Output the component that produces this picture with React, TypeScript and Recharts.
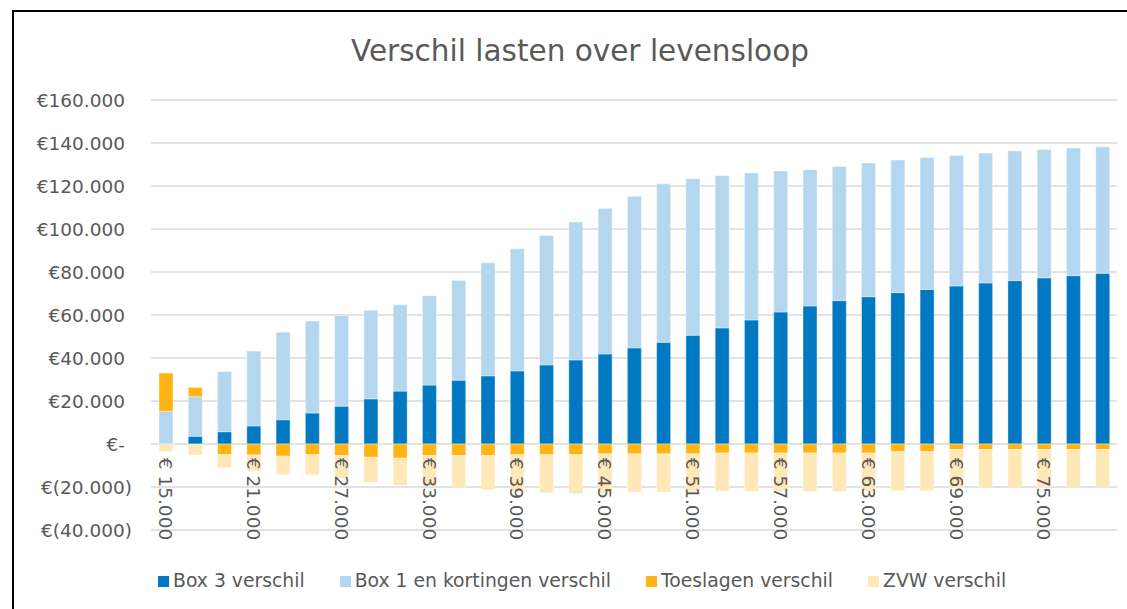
import React from 'react';
import { BarChart, Bar, XAxis, YAxis, CartesianGrid } from 'recharts';

// bruto inkomen (x-as)
const INKOMENS = [
  15000, 17000, 19000, 21000, 23000, 25000, 27000, 29000, 31000, 33000, 35000,
  37000, 39000, 41000, 43000, 45000, 47000, 49000, 51000, 53000, 55000, 57000,
  59000, 61000, 63000, 65000, 67000, 69000, 71000, 73000, 75000, 77000, 79000,
];

const BOX3 = [
  0, 3600, 5700, 8400, 11300, 14400, 17600, 21000, 24600, 27400, 29700,
  31700, 34000, 36800, 39100, 41900, 44700, 47300, 50600, 54000, 57700, 61400,
  64200, 66700, 68500, 70400, 71900, 73500, 74900, 76000, 77300, 78300, 79400,
];

const BOX1 = [
  15200, 18400, 28000, 34800, 40700, 42800, 42100, 41200, 40200, 41600, 46400,
  52600, 56800, 60200, 64100, 67600, 70500, 73700, 72800, 70800, 68400, 65600,
  63400, 62400, 62200, 61700, 61300, 60700, 60400, 60300, 59700, 59400, 58800,
];

const TOESLAGEN = [
  17800, 4300, -5000, -5100, -5700, -5000, -5400, -6200, -6600, -5400, -5400,
  -5400, -5000, -5000, -5000, -4600, -4600, -4600, -4600, -4200, -4200, -4200,
  -4200, -4200, -4200, -3600, -3600, -2600, -2600, -2600, -2600, -2600, -2600,
];

const ZVW = [
  -3600, -5100, -6100, -7400, -8500, -9400, -10500, -11600, -12700, -14100, -14700,
  -15800, -17000, -17700, -18100, -18200, -17800, -17800, -17600, -17700, -17700, -17800,
  -17900, -17900, -17800, -18100, -18100, -17900, -17500, -17500, -17500, -17500, -17500,
];

const Y_TICKS = [-40000, -20000, 0, 20000, 40000, 60000, 80000, 100000, 120000, 140000, 160000];

const SERIES = [
  { key: 'box3', name: 'Box 3 verschil', color: '#0079C2' },
  { key: 'box1', name: 'Box 1 en kortingen verschil', color: '#B4D7EF' },
  { key: 'toeslagen', name: 'Toeslagen verschil', color: '#FFB414' },
  { key: 'zvw', name: 'ZVW verschil', color: '#FFE8B8' },
];

const data = INKOMENS.map((inkomen, i) => ({
  inkomen,
  box3: BOX3[i],
  box1: BOX1[i],
  toeslagen: TOESLAGEN[i],
  zvw: ZVW[i],
}));

const W = 1127;
const H = 609;
const MARGIN = { top: 100, right: 10, bottom: 78, left: 0 };
const Y_MIN = -40000;
const Y_MAX = 160000;
const PLOT_H = H - MARGIN.top - MARGIN.bottom;
const ZERO_Y = MARGIN.top + (PLOT_H * Y_MAX) / (Y_MAX - Y_MIN);

const FONT = '"DejaVu Sans", Verdana, sans-serif';
const TEXT = '#595959';

const dots = (v: number) => String(v).replace(/\B(?=(\d{3})+(?!\d))/g, '.');

const yLabel = (v: number) => {
  if (v === 0) return '€-';
  if (v < 0) return `€(${dots(-v)})`;
  return `€${dots(v)}`;
};

const YTick = ({ y, payload }: any) => (
  <text
    x={payload.value < 0 ? 132 : 125}
    y={y}
    dy="0.36em"
    textAnchor="end"
    fill={TEXT}
    fontSize={18.5}
    fontFamily={FONT}
  >
    {yLabel(payload.value)}
  </text>
);

// labels staan net onder de nullijn, 90 graden gedraaid
const XTick = ({ x, payload }: any) => (
  <text
    transform={`translate(${x},${ZERO_Y + 13}) rotate(90)`}
    textAnchor="start"
    dominantBaseline="central"
    fill={TEXT}
    fontSize={18.5}
    fontFamily={FONT}
  >
    {`€ ${dots(payload.value)}`}
  </text>
);

export default function App() {
  return (
    <div style={{ position: 'absolute', left: 0, top: 0, width: W, height: H, background: '#fff', overflow: 'hidden', fontFamily: FONT }}>
      <div style={{ position: 'absolute', left: 12, top: 10, right: 0, bottom: 0, borderLeft: '2px solid #000', borderTop: '2px solid #000' }} />
      <div style={{ position: 'absolute', left: 280, width: 600, top: 33, textAlign: 'center', fontSize: 29.5, color: TEXT, lineHeight: '36px' }}>
        Verschil lasten over levensloop
      </div>
      <div style={{ position: 'absolute', left: 0, top: 0 }}>
        <BarChart width={W} height={H} data={data} margin={MARGIN} stackOffset="sign" barSize={14}>
          <CartesianGrid vertical={false} stroke="#D9D9D9" strokeWidth={1.5} />
          <XAxis dataKey="inkomen" height={1} axisLine={false} tickLine={false} interval={2} tick={<XTick />} />
          <YAxis
            width={151}
            domain={[Y_MIN, Y_MAX]}
            ticks={Y_TICKS}
            interval={0}
            axisLine={false}
            tickLine={false}
            tick={<YTick />}
          />
          {SERIES.map((s) => (
            <Bar
              key={s.key}
              dataKey={s.key}
              name={s.name}
              stackId="a"
              fill={s.color}
              stroke="#ffffff"
              strokeOpacity={0.5}
              strokeWidth={0.75}
              isAnimationActive={false}
            />
          ))}
        </BarChart>
      </div>
      <div style={{ position: 'absolute', left: 158, top: 569, display: 'flex', alignItems: 'center', fontSize: 18.8, color: TEXT, lineHeight: '24px' }}>
        {SERIES.map((s) => (
          <div key={s.key} style={{ display: 'flex', alignItems: 'center', marginRight: 35 }}>
            <span style={{ display: 'inline-block', width: 11, height: 11, background: s.color, marginRight: 4 }} />
            <span>{s.name}</span>
          </div>
        ))}
      </div>
    </div>
  );
}
